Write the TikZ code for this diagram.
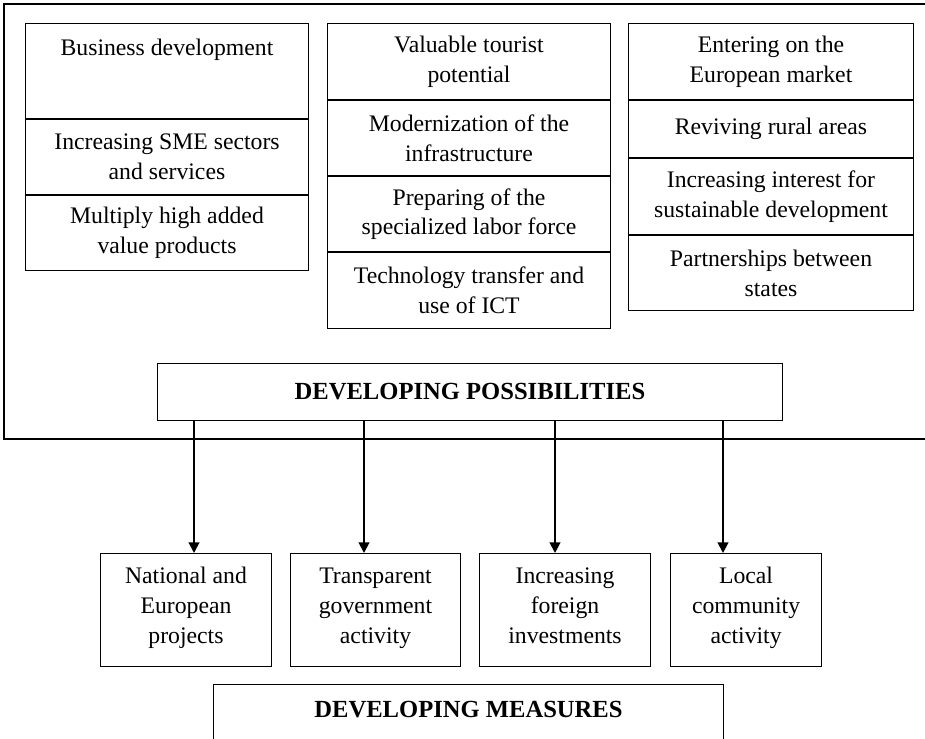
\documentclass[tikz,border=0pt]{standalone}
\usepackage{fontspec}
\setmainfont{Liberation Serif}
\usetikzlibrary{positioning,arrows.meta}
\tikzset{
    cell/.style={rectangle, draw, line width=0.6pt, align=center, inner sep=2pt, font=\fontsize{13.5}{17}\selectfont},
    top cell/.style={cell, minimum width=5.66cm},
    measure cell/.style={cell, minimum height=2.26cm, execute at end node=\strut},
    title box/.style={rectangle, draw, line width=0.6pt, inner sep=2pt, font=\fontsize{14}{17}\selectfont\bfseries},
    flow arrow/.style={-{Triangle[length=6pt,width=6pt]}, line width=1.1pt}
}
\begin{document}
\begin{tikzpicture}[x=0.02cm, y=-0.02cm]
    \clip (0,0) rectangle (925,738);

    % Outer frame (cut at the right)
    \draw[line width=0.6pt] (925,4) -- (4,4) -- (4,439) -- (925,439);

    % Left column
    \node[top cell, minimum height=1.9cm, text height=0.57cm, text depth=1.19cm, anchor=north west] (busdev) at (25,23) {Business development};
    \node[top cell, minimum height=1.5cm, below=0pt of busdev] (sme) {Increasing SME sectors\\and services};
    \node[top cell, minimum height=1.5cm, below=0pt of sme] (highval) {Multiply high added\\value products};

    % Middle column
    \node[top cell, minimum height=1.52cm, anchor=north west] (tourist) at (327,23) {Valuable tourist\\potential};
    \node[top cell, minimum height=1.5cm, below=0pt of tourist] (infra) {Modernization of the\\infrastructure};
    \node[top cell, minimum height=1.5cm, below=0pt of infra] (labor) {Preparing of the\\specialized labor force};
    \node[top cell, minimum height=1.52cm, below=0pt of labor] (ict) {Technology transfer and\\use of ICT};

    % Right column
    \node[top cell, minimum width=5.7cm, minimum height=1.52cm, anchor=north west] (euro) at (628,23) {Entering on the\\European market};
    \node[top cell, minimum width=5.7cm, minimum height=1.14cm, below=0pt of euro] (rural) {Reviving rural areas};
    \node[top cell, minimum width=5.7cm, minimum height=1.52cm, below=0pt of rural] (sustain) {Increasing interest for\\sustainable development};
    \node[top cell, minimum width=5.7cm, minimum height=1.5cm, below=0pt of sustain] (partner) {Partnerships between\\states};

    % Possibilities
    \node[title box, minimum width=12.5cm, minimum height=1.14cm, anchor=north west] (possib) at (157,363) {DEVELOPING POSSIBILITIES};

    % Measures
    \node[measure cell, minimum width=3.42cm, anchor=north west] (projects) at (100,553) {National and\\European\\projects};
    \node[measure cell, minimum width=3.4cm, right=0.36cm of projects] (govern) {Transparent\\government\\activity};
    \node[measure cell, minimum width=3.42cm, right=0.36cm of govern] (invest) {Increasing\\foreign\\investments};
    \node[measure cell, minimum width=3.02cm, right=0.38cm of invest] (local) {Local\\community\\activity};

    \node[title box, minimum width=10.2cm, minimum height=3cm, text height=0.59cm, text depth=2.27cm, anchor=north west] (measures) at (213,684) {DEVELOPING MEASURES};

    % Arrows
    \draw[flow arrow] (194,0 |- possib.south) -- (194,0 |- projects.north);
    \draw[flow arrow] (364,0 |- possib.south) -- (364,0 |- govern.north);
    \draw[flow arrow] (555,0 |- possib.south) -- (555,0 |- invest.north);
    \draw[flow arrow] (723,0 |- possib.south) -- (723,0 |- local.north);
\end{tikzpicture}
\end{document}
